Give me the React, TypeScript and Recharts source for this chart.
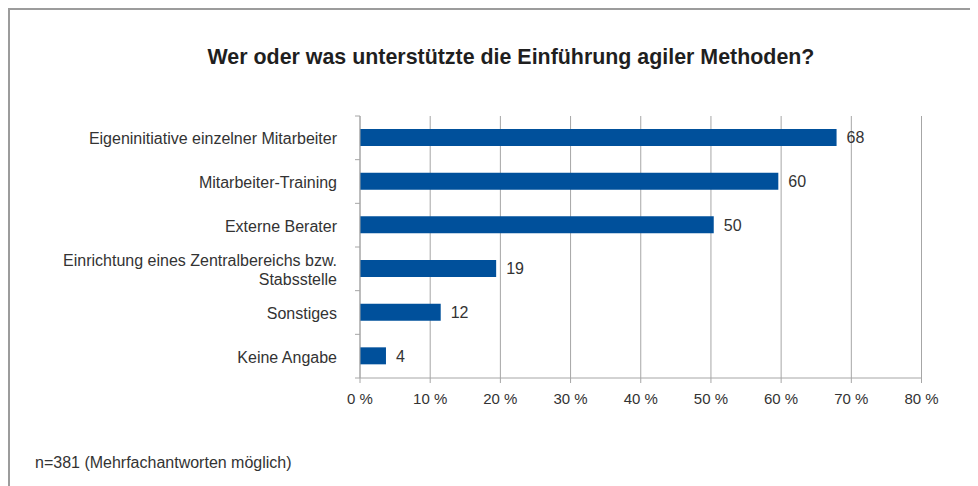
import React from "react";
import { BarChart, Bar, XAxis, YAxis, CartesianGrid, LabelList } from "recharts";

const categories = [
  "Eigeninitiative einzelner Mitarbeiter",
  "Mitarbeiter-Training",
  "Externe Berater",
  "Einrichtung eines Zentralbereichs bzw.\nStabsstelle",
  "Sonstiges",
  "Keine Angabe",
];
const values = [67.9, 59.6, 50.4, 19.4, 11.5, 3.7];
const valueLabels = ["68", "60", "50", "19", "12", "4"];
const xTicks = [0, 10, 20, 30, 40, 50, 60, 70, 80];

const title = "Wer oder was unterstützte die Einführung agiler Methoden?";
const footnote = "n=381 (Mehrfachantworten möglich)";

const data = categories.map((c, i) => ({ name: c, value: values[i], label: valueLabels[i] }));

const FONT = "'Liberation Sans', Arial, sans-serif";
const TEXT = "#333333";
const GRID = "#a6a6a6";
const BAR = "#00509b";

const CategoryTick = (props: any) => {
  const { x, y, payload, index } = props;
  const lines = String(payload.value).split("\n");
  const half = payload && payload.offset ? payload.offset : 21.8;
  const axisX = x + 23;
  const lh = 19;
  const startDy = -((lines.length - 1) * lh) / 2;
  return (
    <g>
      <line x1={axisX - 5} x2={axisX} y1={y - half} y2={y - half} stroke={GRID} strokeWidth={1} />
      {index === categories.length - 1 && (
        <line x1={axisX - 5} x2={axisX} y1={y + half} y2={y + half} stroke={GRID} strokeWidth={1} />
      )}
      <text x={x} y={y + 1} textAnchor="end" fontSize={16} fontFamily={FONT} fill={TEXT}>
        {lines.map((l, i) => (
          <tspan key={i} x={x} dy={i === 0 ? startDy : lh} dominantBaseline="central">
            {l}
          </tspan>
        ))}
      </text>
    </g>
  );
};

export default function App() {
  return (
    <div
      style={{
        position: "relative",
        width: 970,
        height: 478,
        overflow: "hidden",
        borderTop: "2px solid #9c9c9c",
        borderLeft: "2px solid #9c9c9c",
        boxSizing: "border-box",
        background: "#fff",
      }}
    >
      <div
        style={{
          position: "absolute",
          left: 101,
          top: 35,
          width: 800,
          textAlign: "center",
          fontFamily: FONT,
          fontWeight: "bold",
          fontSize: 21.4,
          lineHeight: "24px",
          color: "#1f1f1f",
        }}
      >
        {title}
      </div>
      <BarChart
        width={968}
        height={476}
        data={data}
        layout="vertical"
        margin={{ top: 106, right: 56.5, left: 0, bottom: 78 }}
        barSize={17}
      >
        <CartesianGrid horizontal={false} vertical={true} stroke={GRID} strokeWidth={1} />
        <XAxis
          type="number"
          domain={[0, 80]}
          ticks={xTicks}
          height={30}
          tickFormatter={(v: number) => `${v} %`}
          tick={{ fontSize: 15, fontFamily: FONT, fill: TEXT }}
          tickSize={5}
          tickMargin={10}
          axisLine={{ stroke: GRID }}
          tickLine={{ stroke: GRID }}
          interval={0}
        />
        <YAxis
          type="category"
          dataKey="name"
          width={350}
          tick={<CategoryTick />}
          tickSize={0}
          tickMargin={23}
          tickLine={false}
          axisLine={{ stroke: GRID }}
          interval={0}
        />
        <Bar dataKey="value" fill={BAR} isAnimationActive={false}>
          <LabelList dataKey="label" position="right" offset={10} fontSize={16} fontFamily={FONT} fill={TEXT} />
        </Bar>
      </BarChart>
      <div
        style={{
          position: "absolute",
          left: 25,
          top: 443,
          fontFamily: FONT,
          fontSize: 16,
          lineHeight: "20px",
          color: TEXT,
          whiteSpace: "nowrap",
        }}
      >
        {footnote}
      </div>
    </div>
  );
}
